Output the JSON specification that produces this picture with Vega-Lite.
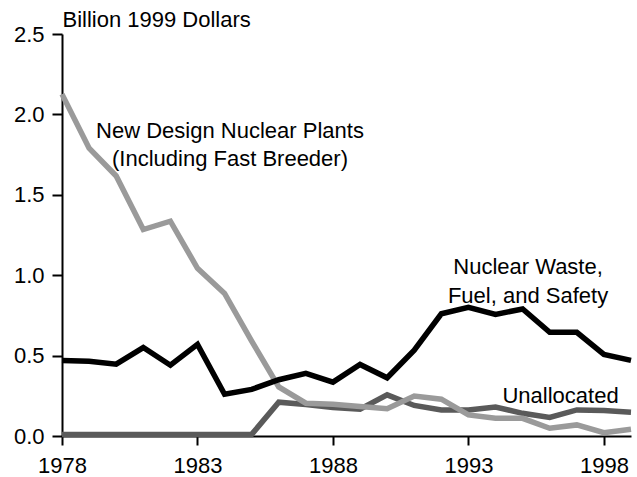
{
  "$schema": "https://vega.github.io/schema/vega-lite/v6.json",
  "autosize": "none",
  "width": 569,
  "height": 402,
  "padding": {"left": 62, "top": 34, "right": 6, "bottom": 41},
  "background": "white",
  "config": {
    "view": {"stroke": null},
    "font": "Liberation Sans",
    "axis": {"grid": false, "domainColor": "black", "domainWidth": 2, "tickColor": "black", "tickWidth": 2, "labelColor": "black", "labelFontSize": 22, "labelFont": "Liberation Sans", "titleFont": "Liberation Sans", "labelFlush": false, "labelOverlap": false}
  },
  "datasets": {
    "series": [
      {"year": 1978, "series": "Unallocated", "value": 0.01},
      {"year": 1979, "series": "Unallocated", "value": 0.01},
      {"year": 1980, "series": "Unallocated", "value": 0.01},
      {"year": 1981, "series": "Unallocated", "value": 0.01},
      {"year": 1982, "series": "Unallocated", "value": 0.01},
      {"year": 1983, "series": "Unallocated", "value": 0.01},
      {"year": 1984, "series": "Unallocated", "value": 0.01},
      {"year": 1985, "series": "Unallocated", "value": 0.01},
      {"year": 1986, "series": "Unallocated", "value": 0.21},
      {"year": 1987, "series": "Unallocated", "value": 0.196},
      {"year": 1988, "series": "Unallocated", "value": 0.177},
      {"year": 1989, "series": "Unallocated", "value": 0.167},
      {"year": 1990, "series": "Unallocated", "value": 0.256},
      {"year": 1991, "series": "Unallocated", "value": 0.19},
      {"year": 1992, "series": "Unallocated", "value": 0.162},
      {"year": 1993, "series": "Unallocated", "value": 0.162},
      {"year": 1994, "series": "Unallocated", "value": 0.18},
      {"year": 1995, "series": "Unallocated", "value": 0.141},
      {"year": 1996, "series": "Unallocated", "value": 0.116},
      {"year": 1997, "series": "Unallocated", "value": 0.162},
      {"year": 1998, "series": "Unallocated", "value": 0.158},
      {"year": 1999, "series": "Unallocated", "value": 0.148},
      {"year": 1978, "series": "New Design", "value": 2.126},
      {"year": 1979, "series": "New Design", "value": 1.79},
      {"year": 1980, "series": "New Design", "value": 1.617},
      {"year": 1981, "series": "New Design", "value": 1.284},
      {"year": 1982, "series": "New Design", "value": 1.336},
      {"year": 1983, "series": "New Design", "value": 1.043},
      {"year": 1984, "series": "New Design", "value": 0.887},
      {"year": 1985, "series": "New Design", "value": 0.59},
      {"year": 1986, "series": "New Design", "value": 0.305},
      {"year": 1987, "series": "New Design", "value": 0.204},
      {"year": 1988, "series": "New Design", "value": 0.198},
      {"year": 1989, "series": "New Design", "value": 0.183},
      {"year": 1990, "series": "New Design", "value": 0.17},
      {"year": 1991, "series": "New Design", "value": 0.249},
      {"year": 1992, "series": "New Design", "value": 0.229},
      {"year": 1993, "series": "New Design", "value": 0.131},
      {"year": 1994, "series": "New Design", "value": 0.11},
      {"year": 1995, "series": "New Design", "value": 0.11},
      {"year": 1996, "series": "New Design", "value": 0.048},
      {"year": 1997, "series": "New Design", "value": 0.069},
      {"year": 1998, "series": "New Design", "value": 0.021},
      {"year": 1999, "series": "New Design", "value": 0.042},
      {"year": 1978, "series": "Nuclear Waste", "value": 0.47},
      {"year": 1979, "series": "Nuclear Waste", "value": 0.465},
      {"year": 1980, "series": "Nuclear Waste", "value": 0.447},
      {"year": 1981, "series": "Nuclear Waste", "value": 0.55},
      {"year": 1982, "series": "Nuclear Waste", "value": 0.44},
      {"year": 1983, "series": "Nuclear Waste", "value": 0.57},
      {"year": 1984, "series": "Nuclear Waste", "value": 0.26},
      {"year": 1985, "series": "Nuclear Waste", "value": 0.29},
      {"year": 1986, "series": "Nuclear Waste", "value": 0.35},
      {"year": 1987, "series": "Nuclear Waste", "value": 0.39},
      {"year": 1988, "series": "Nuclear Waste", "value": 0.335},
      {"year": 1989, "series": "Nuclear Waste", "value": 0.445},
      {"year": 1990, "series": "Nuclear Waste", "value": 0.362},
      {"year": 1991, "series": "Nuclear Waste", "value": 0.534},
      {"year": 1992, "series": "Nuclear Waste", "value": 0.76},
      {"year": 1993, "series": "Nuclear Waste", "value": 0.8},
      {"year": 1994, "series": "Nuclear Waste", "value": 0.756},
      {"year": 1995, "series": "Nuclear Waste", "value": 0.79},
      {"year": 1996, "series": "Nuclear Waste", "value": 0.645},
      {"year": 1997, "series": "Nuclear Waste", "value": 0.645},
      {"year": 1998, "series": "Nuclear Waste", "value": 0.507},
      {"year": 1999, "series": "Nuclear Waste", "value": 0.47}
    ],
    "labels": [
      {"year": 1984.2, "value": 1.897, "text": "New Design Nuclear Plants"},
      {"year": 1984.2, "value": 1.72, "text": "(Including Fast Breeder)"},
      {"year": 1995.2, "value": 1.049, "text": "Nuclear Waste,"},
      {"year": 1995.2, "value": 0.87, "text": "Fuel, and Safety"},
      {"year": 1996.4, "value": 0.249, "text": "Unallocated"}
    ]
  },
  "layer": [
    {
      "data": {"name": "series"},
      "mark": {"type": "line", "strokeWidth": 5.5, "strokeJoin": "miter", "strokeCap": "butt", "clip": false},
      "encoding": {
        "x": {"field": "year", "type": "quantitative", "scale": {"domain": [1978, 1999], "nice": false, "zero": false},
          "axis": {"values": [1978, 1983, 1988, 1993, 1998], "format": "d", "title": null, "tickSize": 9, "labelPadding": 10}},
        "y": {"field": "value", "type": "quantitative", "scale": {"domain": [0, 2.5], "nice": false},
          "axis": {"values": [0, 0.5, 1, 1.5, 2, 2.5], "format": ".1f", "tickSize": 10, "labelPadding": 8,
            "title": "Billion 1999 Dollars", "titleAngle": 0, "titleAlign": "left", "titleBaseline": "alphabetic",
            "titleX": 0, "titleY": -8, "titleFontSize": 22, "titleFontWeight": "normal", "titleColor": "black"}},
        "color": {"field": "series", "type": "nominal",
          "scale": {"domain": ["Unallocated", "New Design", "Nuclear Waste"], "range": ["#5a5a5a", "#9a9a9a", "#000000"]},
          "legend": null},
        "order": {"field": "year", "type": "quantitative"}
      }
    },
    {
      "data": {"name": "labels"},
      "mark": {"type": "text", "fontSize": 22, "font": "Liberation Sans", "align": "center", "baseline": "middle", "color": "black"},
      "encoding": {
        "x": {"field": "year", "type": "quantitative"},
        "y": {"field": "value", "type": "quantitative"},
        "text": {"field": "text"}
      }
    }
  ]
}
